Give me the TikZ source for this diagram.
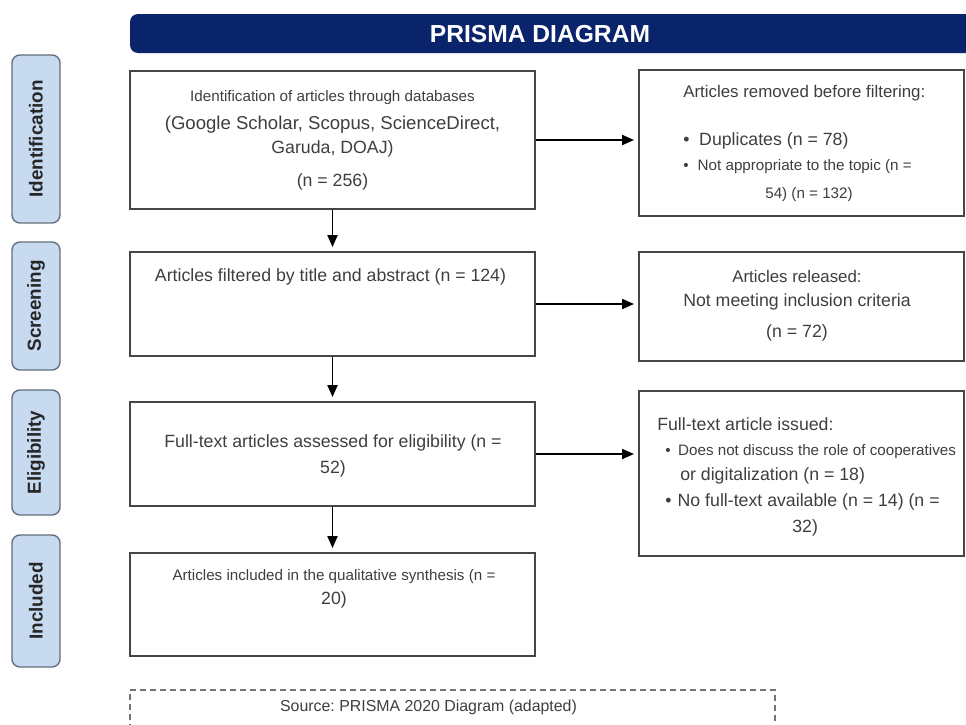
\documentclass[tikz,border=0pt]{standalone}
\usepackage{fontspec}
\setmainfont{Liberation Sans}
\usetikzlibrary{arrows.meta}

\definecolor{navy}{RGB}{10,36,108}
\definecolor{tabblue}{RGB}{200,218,240}
\definecolor{tabedge}{RGB}{100,112,126}
\definecolor{boxedge}{RGB}{70,70,70}
\definecolor{txt}{RGB}{62,62,62}

\newcommand{\regfont}{\fontsize{12.6}{18}\selectfont}
\newcommand{\smfont}{\fontsize{10.8}{18}\selectfont}

\tikzset{
  stage/.style={draw=tabedge, fill=tabblue, rotate=90, rounded corners=0.2cm,
    minimum height=1.2cm, inner sep=0pt, line width=1pt,
    font=\fontsize{13.4}{16}\selectfont\bfseries, text=black!85},
  flowbox/.style={draw=boxedge, line width=1.3pt, minimum width=10.125cm, inner sep=0pt},
  sidebox/.style={draw=boxedge, line width=1.3pt, minimum width=8.125cm, inner sep=0pt},
  boxtext/.style={text=txt, font=\regfont, inner sep=0pt},
  flowarrow/.style={-{Triangle[length=0.3cm,width=0.25cm]}, line width=1.4pt, shorten >=0.1cm}
}

\begin{document}
\frenchspacing
\begin{tikzpicture}[x=0.025cm, y=-0.025cm]
\useasboundingbox (0,0) rectangle (966,724);

% Title bar
\fill[navy] (980,53) -- (980,14) [rounded corners=0.2cm] -- (130,14) -- (130,53) [sharp corners] -- cycle;
\node[text=white, font=\fontsize{17.5}{20}\selectfont\bfseries] (title) at (540,34) {PRISMA DIAGRAM};

% Stages
\node[stage, minimum width=4.2cm] (tabident) at (36,139) {Identification};
\node[stage, minimum width=3.2cm] (tabscreen) at (36,306) {Screening};
\node[stage, minimum width=3.125cm] (tabelig) at (36,452.5) {Eligibility};
\node[stage, minimum width=3.3cm] (tabincl) at (36,601) {Included};

% Main flow
\node[flowbox, minimum height=3.45cm] (ident) at (332.5,140) {};
\node[flowbox, minimum height=2.6cm] (screen) at (332.5,304) {};
\node[flowbox, minimum height=2.6cm] (elig) at (332.5,454) {};
\node[flowbox, minimum height=2.575cm] (incl) at (332.5,604.5) {};

% Excluded records
\node[sidebox, minimum height=3.65cm] (removed) at (801.5,143) {};
\node[sidebox, minimum height=2.725cm] (released) at (801.5,306.5) {};
\node[sidebox, minimum height=4.125cm] (issued) at (801.5,473.5) {};

% Texts
\node[boxtext, align=center] (identtxt) at (332.5,140)
  {{\smfont Identification of articles through databases}\\[2pt]
   \fontsize{13.2}{18}\selectfont (Google Scholar, Scopus, ScienceDirect,\\[-0.5pt]
   Garuda, DOAJ)\\[5pt]
   (n = 256)};
\node[boxtext] (screentxt) at (330.5,277) {Articles filtered by title and abstract (n = 124)};
\node[boxtext, align=center] (eligtxt) at (333,456)
  {Full-text articles assessed for eligibility (n =\\52)};
\node[boxtext, align=center] (incltxt) at (334,589)
  {{\smfont Articles included in the qualitative synthesis (n =}\\[-1pt]20)};

\node[boxtext, align=left, anchor=north west] (removedtxt) at (683,85)
  {{\fontsize{12}{18}\selectfont Articles removed before filtering:}\\[16pt]
   •\hspace{0.55em}Duplicates (n = 78)\\
   {\smfont •\hspace{0.6em}Not appropriate to the topic (n =}\\[2pt]
   \hspace*{2.05cm}{\smfont 54) (n = 132)}};
\node[boxtext, align=center] (releasedtxt) at (797,306)
  {{\fontsize{12}{18}\selectfont Articles released:}\\[-1pt]
   Not meeting inclusion criteria\\[4pt]
   (n = 72)};
\node[boxtext, align=left, anchor=north west] (issuedtxt) at (657,417)
  {Full-text article issued:\\
   \hspace*{0.2cm}{\smfont •\hspace{0.5em}Does not discuss the role of cooperatives}\\
   \hspace*{0.575cm}or digitalization (n = 18)\\
   \hspace*{0.2cm}•\hspace{0.35em}No full-text available (n = 14) (n =\\[1pt]
   \hspace*{3.375cm}32)};

% Arrows
\draw[flowarrow] (ident) -- (screen);
\draw[flowarrow] (screen) -- (elig);
\draw[flowarrow] (elig) -- (incl);
\draw[flowarrow] (ident.east) -- (ident.east -| removed.west);
\draw[flowarrow] (screen.east) -- (screen.east -| released.west);
\draw[flowarrow] (elig.east) -- (elig.east -| issued.west);

% Source note
\draw[black!55, line width=1.2pt, dash pattern=on 0.15cm off 0.1cm] (130,740) -- (130,690) -- (775,690) -- (775,740);
\node[text=txt, font=\fontsize{11.3}{14}\selectfont] (source) at (428.5,707) {Source: PRISMA 2020 Diagram (adapted)};
\end{tikzpicture}
\end{document}
